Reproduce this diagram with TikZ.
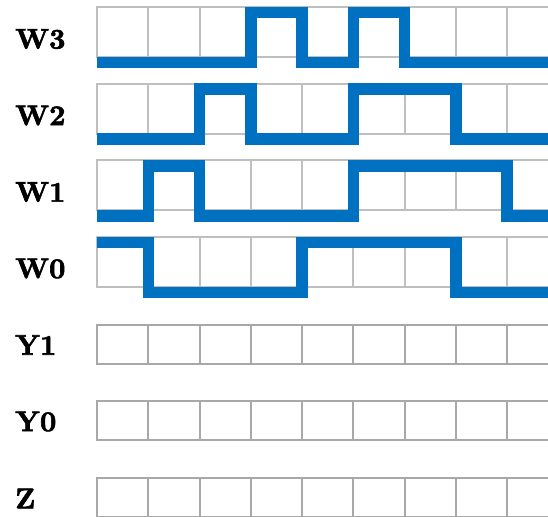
\documentclass[tikz,border=0pt]{standalone}
\usepackage{fontspec}
\newfontfamily\lblfont{lmroman10-bold.otf}[FakeBold=2.2]
\definecolor{wave}{HTML}{0070C0}
\definecolor{gridA}{HTML}{BFBFBF}
\definecolor{gridB}{HTML}{A8A8A8}
\begin{document}
\begin{tikzpicture}[x=1pt,y=-1pt,
  lbl/.style={anchor=west,inner sep=0pt,font=\fontsize{28.5}{30}\lblfont},
  sig/.style={draw=wave,line width=11.5pt,line join=miter,line cap=butt},
  cellA/.style={draw=gridA,line width=2pt},
  cellB/.style={draw=gridB,line width=2pt}]
\useasboundingbox (0,0) rectangle (548,516);
\clip (0,0) rectangle (548,516);
% W rows grid
\foreach \b in {57,133.67,210.33,287}{
  \pgfmathsetmacro{\t}{\b-50}
  \draw[cellA] (96,\t) -- (548,\t);
  \draw[cellA] (96,\b) -- (548,\b);
  \foreach \c in {97,148.25,199.5,250.75,302,353.25,404.5,455.75,507}
    \draw[cellA] (\c,\t) -- (\c,\b);
}
% Y rows grid
\foreach \b in {363.67,440.33,517}{
  \pgfmathsetmacro{\t}{\b-39}
  \draw[cellB] (96,\t) -- (548,\t);
  \draw[cellB] (96,\b) -- (548,\b);
  \foreach \c in {97,148.25,199.5,250.75,302,353.25,404.5,455.75,507}
    \draw[cellB] (\c,\t) -- (\c,\b);
}
% waveforms
\draw[sig] (97,62.5) -- (250.75,62.5) -- (250.75,12.5) -- (302,12.5) -- (302,62.5)
  -- (353.25,62.5) -- (353.25,12.5) -- (404.5,12.5) -- (404.5,62.5) -- (548,62.5);
\draw[sig] (97,139.17) -- (199.5,139.17) -- (199.5,89.17) -- (250.75,89.17) -- (250.75,139.17)
  -- (353.25,139.17) -- (353.25,89.17) -- (455.75,89.17) -- (455.75,139.17) -- (548,139.17);
\draw[sig] (97,215.83) -- (148.25,215.83) -- (148.25,165.83) -- (199.5,165.83) -- (199.5,215.83)
  -- (353.25,215.83) -- (353.25,165.83) -- (507,165.83) -- (507,215.83) -- (548,215.83);
\draw[sig] (97,242.5) -- (148.25,242.5) -- (148.25,292.5) -- (302,292.5) -- (302,242.5)
  -- (455.75,242.5) -- (455.75,292.5) -- (548,292.5);
% labels
\node[lbl] (w3) at (15,39) {W3};
\node[lbl] (w2) at (15,115.5) {W2};
\node[lbl] (w1) at (15,192) {W1};
\node[lbl] (w0) at (15,268.5) {W0};
\node[lbl] (y1) at (15,345) {Y1};
\node[lbl] (y0) at (15,421.5) {Y0};
\node[lbl] (z) at (15,498.5) {Z};
\end{tikzpicture}
\end{document}
